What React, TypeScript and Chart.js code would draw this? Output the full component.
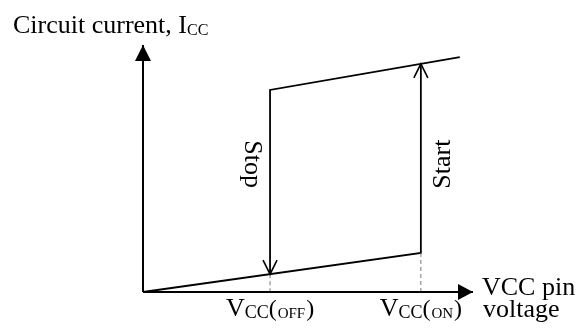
import React, { useEffect, useRef } from "react";
import { Chart, registerables } from "chart.js";

Chart.register(...registerables);

const FONT = '"Liberation Serif", "Times New Roman", serif';

// Axis ranges (arbitrary units)
const X_MAX = 10;
const Y_MAX = 10;

// Characteristic voltages (x values)
const V_OFF = 3.85;
const V_ON = 8.42;
const X_END = 9.6;

// Upper branch (operating) then the "Stop" drop at V_OFF
const stopPathX = [X_END, V_OFF, V_OFF];
const stopPathY = [9.51, 8.18, 0.72];

// Lower branch (standby) then the "Start" jump at V_ON
const startPathX = [0, V_ON, V_ON];
const startPathY = [0, 1.58, 9.24];

// Dashed guides down to the x axis
const guideOffY = [0.72, 0];
const guideOnY = [1.58, 0];

// Axes
const xAxisX = [0, X_MAX];
const xAxisY = [0, 0];
const yAxisX = [0, 0];
const yAxisY = [0, Y_MAX];

// Texts
const yTitleMain = "Circuit current, I";
const yTitleSub = "CC";
const xTitleLines = ["VCC pin", "voltage"];
const stopLabel = "Stop";
const startLabel = "Start";
const offLabel = { main: "V", sub: "CC", paren: "OFF" };
const onLabel = { main: "V", sub: "CC", paren: "ON" };

const pts = (xs: number[], ys: number[]) => xs.map((x, i) => ({ x, y: ys[i] }));

const drawVLabel = (
  ctx: CanvasRenderingContext2D,
  cx: number,
  baseline: number,
  lbl: { main: string; sub: string; paren: string }
) => {
  const fMain = `26px ${FONT}`;
  const fSub = `18px ${FONT}`;
  const fParen = `24px ${FONT}`;
  const fSmall = `15px ${FONT}`;
  ctx.font = fMain;
  const wV = ctx.measureText(lbl.main).width;
  ctx.font = fSub;
  const wS = ctx.measureText(lbl.sub).width;
  ctx.font = fParen;
  const wL = ctx.measureText("(").width;
  const wR = ctx.measureText(")").width;
  ctx.font = fSmall;
  const wP = ctx.measureText(lbl.paren).width;
  const gap = 1;
  const total = wV + wS + wL + wP + wR + gap * 2;
  let x = cx - total / 2;
  ctx.textAlign = "left";
  ctx.textBaseline = "alphabetic";
  ctx.font = fMain;
  ctx.fillText(lbl.main, x, baseline);
  x += wV;
  ctx.font = fSub;
  ctx.fillText(lbl.sub, x, baseline + 2);
  x += wS;
  ctx.font = fParen;
  ctx.fillText("(", x, baseline);
  x += wL + gap;
  ctx.font = fSmall;
  ctx.fillText(lbl.paren, x, baseline + 2);
  x += wP + gap;
  ctx.font = fParen;
  ctx.fillText(")", x, baseline);
};

const annotations = {
  id: "annotations",
  afterDatasetsDraw(chart: any) {
    const ctx: CanvasRenderingContext2D = chart.ctx;
    const xs = chart.scales.x;
    const ys = chart.scales.y;
    const px = (v: number) => xs.getPixelForValue(v);
    const py = (v: number) => ys.getPixelForValue(v);
    ctx.save();
    ctx.fillStyle = "#000";
    ctx.strokeStyle = "#000";

    // filled arrowheads on axes
    const yt = { x: px(0), y: py(Y_MAX) };
    ctx.beginPath();
    ctx.moveTo(yt.x, yt.y);
    ctx.lineTo(yt.x - 8, yt.y + 16);
    ctx.lineTo(yt.x + 8, yt.y + 16);
    ctx.closePath();
    ctx.fill();
    const xt = { x: px(X_MAX), y: py(0) };
    ctx.beginPath();
    ctx.moveTo(xt.x, xt.y);
    ctx.lineTo(xt.x - 15, xt.y - 8);
    ctx.lineTo(xt.x - 15, xt.y + 8);
    ctx.closePath();
    ctx.fill();

    // open arrowheads
    ctx.lineWidth = 1.6;
    ctx.lineJoin = "miter";
    const sx = px(V_OFF);
    const sy = py(stopPathY[2]);
    ctx.beginPath();
    ctx.moveTo(sx - 7, sy - 14);
    ctx.lineTo(sx, sy);
    ctx.lineTo(sx + 7, sy - 14);
    ctx.stroke();
    const ux = px(V_ON);
    const uy = py(startPathY[2]);
    ctx.beginPath();
    ctx.moveTo(ux - 7, uy + 14);
    ctx.lineTo(ux, uy);
    ctx.lineTo(ux + 7, uy + 14);
    ctx.stroke();

    // y axis title
    ctx.textAlign = "left";
    ctx.textBaseline = "alphabetic";
    ctx.font = `26px ${FONT}`;
    const tx = 13;
    ctx.fillText(yTitleMain, tx, 33);
    const wMain = ctx.measureText(yTitleMain).width;
    ctx.font = `16px ${FONT}`;
    ctx.fillText(yTitleSub, tx + wMain, 35);

    // x axis title
    ctx.font = `26px ${FONT}`;
    ctx.fillText(xTitleLines[0], xt.x + 9, 295);
    ctx.fillText(xTitleLines[1], xt.x + 10, 317);

    // V labels
    drawVLabel(ctx, px(V_OFF), 316, offLabel);
    drawVLabel(ctx, px(V_ON), 316, onLabel);

    // Stop / Start rotated labels
    const midY = (py(stopPathY[1]) + py(stopPathY[2])) / 2 - 18;
    ctx.font = `26px ${FONT}`;
    ctx.textAlign = "center";
    ctx.save();
    ctx.translate(px(V_OFF) - 25, midY);
    ctx.rotate(Math.PI / 2);
    ctx.fillText(stopLabel, 0, 0);
    ctx.restore();
    ctx.save();
    ctx.translate(px(V_ON) + 29, midY);
    ctx.rotate(-Math.PI / 2);
    ctx.fillText(startLabel, 0, 0);
    ctx.restore();

    ctx.restore();
  },
};

export default function App() {
  const ref = useRef<HTMLCanvasElement | null>(null);
  useEffect(() => {
    if (!ref.current) return;
    const base = { showLine: true, pointRadius: 0, clip: false as any, fill: false };
    const chart = new Chart(ref.current, {
      type: "scatter",
      data: {
        datasets: [
          { ...base, data: pts(xAxisX, xAxisY), borderColor: "#000", borderWidth: 2 },
          { ...base, data: pts(yAxisX, yAxisY), borderColor: "#000", borderWidth: 2 },
          {
            ...base,
            data: pts([V_OFF, V_OFF], guideOffY),
            borderColor: "#777",
            borderWidth: 1,
            borderDash: [4, 3],
          },
          {
            ...base,
            data: pts([V_ON, V_ON], guideOnY),
            borderColor: "#777",
            borderWidth: 1,
            borderDash: [4, 3],
          },
          { ...base, data: pts(stopPathX, stopPathY), borderColor: "#000", borderWidth: 1.8 },
          { ...base, data: pts(startPathX, startPathY), borderColor: "#000", borderWidth: 1.8 },
        ],
      },
      options: {
        animation: false,
        responsive: false,
        devicePixelRatio: 1,
        layout: { padding: { left: 143, right: 583 - 473, top: 45, bottom: 329 - 292 } },
        scales: {
          x: { type: "linear", min: 0, max: X_MAX, display: false },
          y: { type: "linear", min: 0, max: Y_MAX, display: false },
        },
        plugins: { legend: { display: false }, tooltip: { enabled: false } },
        elements: { line: { tension: 0, borderJoinStyle: "miter" } },
      },
      plugins: [annotations],
    });
    return () => chart.destroy();
  }, []);
  return (
    <div style={{ position: "absolute", left: 0, top: 0, width: 583, height: 329, background: "#fff" }}>
      <canvas ref={ref} width={583} height={329} style={{ width: 583, height: 329, display: "block" }} />
    </div>
  );
}
